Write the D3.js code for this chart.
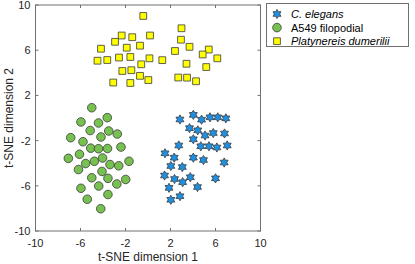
<!DOCTYPE html>
<html>
<head>
<meta charset="utf-8">
<script src="https://cdn.jsdelivr.net/npm/d3@7"></script>
<style>
    body { margin: 0; background: #fff; }
    svg { display: block; font-family: "Liberation Sans", Arial, sans-serif; }
    .tick-label { font-size: 11px; fill: #262626; }
    .axis-title { font-size: 12px; fill: #262626; }
    .legend-label { font-size: 11px; fill: #000; }
</style>
</head>
<body>
<svg id="chart"></svg>
<script>
// t-SNE coordinates
const celegans = [
    [2.84, -0.13], [4.03, 0.28], [4.76, -0.15], [5.51, 0.06], [6.20, 0.06], [6.92, -0.03],
    [3.69, -0.90], [4.42, -1.09], [5.07, -1.55], [5.80, -1.33], [6.80, -1.37], [4.03, -1.88],
    [2.74, -2.43], [4.69, -2.50], [5.42, -2.50], [6.12, -2.61], [7.04, -2.43], [1.51, -3.12],
    [2.33, -3.51], [4.03, -3.51], [4.93, -3.72], [6.77, -3.94], [2.03, -4.25], [3.05, -4.34],
    [1.47, -5.09], [2.36, -5.40], [3.08, -5.68], [3.76, -5.24], [6.00, -5.34], [1.87, -6.18],
    [4.40, -6.11], [2.84, -6.92], [2.03, -7.24]
];
const a549 = [
    [-5.00, 0.91], [-5.96, -0.35], [-4.40, -0.44], [-3.62, 0.03], [-5.14, -1.11], [-3.49, -1.15],
    [-2.73, -1.42], [-6.87, -1.74], [-5.78, -2.10], [-4.18, -1.68], [-5.09, -2.67], [-4.40, -2.72],
    [-3.60, -2.70], [-2.40, -2.57], [-6.09, -3.21], [-7.08, -3.57], [-4.04, -3.54], [-5.54, -4.03],
    [-4.77, -3.83], [-6.18, -4.56], [-3.38, -4.12], [-2.60, -4.23], [-1.69, -3.83], [-4.09, -4.73],
    [-5.00, -5.29], [-3.56, -5.34], [-4.38, -6.02], [-2.77, -5.84], [-1.98, -5.44], [-5.96, -6.22],
    [-3.56, -6.77], [-5.40, -7.19], [-4.20, -8.03]
];
const platynereis = [
    [-0.42, 9.03], [2.98, 7.94], [-2.34, 7.30], [-1.40, 7.15], [0.18, 7.30], [-2.93, 6.74],
    [2.93, 6.93], [-4.18, 6.13], [-1.89, 6.22], [-0.71, 6.40], [3.69, 6.30], [2.40, 5.93],
    [5.40, 6.06], [4.86, 5.62], [-4.49, 5.07], [-3.62, 5.13], [-2.58, 5.35], [-1.57, 5.40],
    [0.13, 5.28], [1.27, 5.12], [-0.60, 4.75], [3.42, 4.80], [5.18, 4.51], [6.16, 5.28],
    [-2.28, 4.16], [-1.48, 4.23], [-0.71, 3.73], [0.03, 3.36], [-3.09, 3.14], [-1.57, 3.10],
    [2.69, 3.58], [3.47, 3.57], [4.27, 3.25]
];
const tickValues = [-10, -6, -2, 2, 6, 10];
const seriesNames = ['C. elegans', 'A549 filopodial', 'Platynereis dumerilii'];
const seriesColors = ['#1f8fe0', '#77c150', '#ffff00'];

const width = 415, height = 264;
const margin = { left: 35.5, right: 154.5, top: 5, bottom: 33 };

const svg = d3.select('#chart')
    .attr('width', width)
    .attr('height', height);

const x = d3.scaleLinear().domain([-10, 10]).range([margin.left, width - margin.right]);
const y = d3.scaleLinear().domain([-10, 10]).range([height - margin.bottom, margin.top]);

// six-pointed star (hexagram), like matlab's 'h' marker
const hexagram = {
    draw(context, size) {
        const r = Math.sqrt(size) * 0.62;
        const ri = r / Math.sqrt(3);
        for (let i = 0; i < 12; i++) {
            const a = -Math.PI / 2 + i * Math.PI / 6;
            const rr = i % 2 === 0 ? r : ri;
            const px = rr * Math.cos(a), py = rr * Math.sin(a);
            if (i === 0) context.moveTo(px, py); else context.lineTo(px, py);
        }
        context.closePath();
    }
};
const symbols = [
    d3.symbol().type(hexagram).size(55),
    d3.symbol().type(d3.symbolCircle).size(58),
    d3.symbol().type(d3.symbolSquare).size(46)
];

// axes box
const x0 = x(-10), x1 = x(10), y0 = y(-10), y1 = y(10);
svg.append('rect')
    .attr('x', x0).attr('y', y1)
    .attr('width', x1 - x0).attr('height', y0 - y1)
    .attr('fill', 'none')
    .attr('stroke', '#707070')
    .attr('stroke-width', 1);

const ticks = svg.append('g').attr('stroke', '#707070').attr('stroke-width', 1);
tickValues.forEach(v => {
    ticks.append('line').attr('x1', x(v)).attr('x2', x(v)).attr('y1', y0).attr('y2', y0 - 3);
    ticks.append('line').attr('x1', x(v)).attr('x2', x(v)).attr('y1', y1).attr('y2', y1 + 3);
    ticks.append('line').attr('y1', y(v)).attr('y2', y(v)).attr('x1', x0).attr('x2', x0 + 3);
    ticks.append('line').attr('y1', y(v)).attr('y2', y(v)).attr('x1', x1).attr('x2', x1 - 3);
});

svg.append('g').selectAll('text')
    .data(tickValues)
    .join('text')
    .attr('class', 'tick-label')
    .attr('x', d => x(d))
    .attr('y', 247)
    .attr('text-anchor', 'middle')
    .text(d => d);

svg.append('g').selectAll('text')
    .data(tickValues)
    .join('text')
    .attr('class', 'tick-label')
    .attr('x', 30.5)
    .attr('y', d => y(d) + 4)
    .attr('text-anchor', 'end')
    .text(d => d);

svg.append('text')
    .attr('class', 'axis-title')
    .attr('x', (x0 + x1) / 2)
    .attr('y', 261)
    .attr('text-anchor', 'middle')
    .text('t-SNE dimension 1');

svg.append('text')
    .attr('class', 'axis-title')
    .attr('transform', `translate(13,${(y0 + y1) / 2}) rotate(-90)`)
    .attr('text-anchor', 'middle')
    .text('t-SNE dimension 2');

// points
const allSeries = [celegans, a549, platynereis];
allSeries.forEach((pts, i) => {
    svg.append('g').selectAll('path')
        .data(pts)
        .join('path')
        .attr('transform', d => `translate(${x(d[0])},${y(d[1])})`)
        .attr('d', symbols[i])
        .attr('fill', seriesColors[i])
        .attr('stroke', '#3a3a3a')
        .attr('stroke-width', 0.8);
});

// legend
const legend = svg.append('g');
legend.append('rect')
    .attr('x', 266.5).attr('y', 3.5)
    .attr('width', 142).attr('height', 43)
    .attr('fill', '#fff')
    .attr('stroke', '#707070')
    .attr('stroke-width', 1);

const rows = legend.selectAll('g.row')
    .data(seriesNames)
    .join('g')
    .attr('class', 'row')
    .attr('transform', (d, i) => `translate(277,${14 + i * 13.6})`);

rows.append('path')
    .attr('d', (d, i) => symbols[i]())
    .attr('fill', (d, i) => seriesColors[i])
    .attr('stroke', '#3a3a3a')
    .attr('stroke-width', 0.8);

rows.append('text')
    .attr('class', 'legend-label')
    .attr('x', 14)
    .attr('y', 4)
    .style('font-style', (d, i) => i === 1 ? 'normal' : 'italic')
    .text(d => d);
</script>
</body>
</html>
